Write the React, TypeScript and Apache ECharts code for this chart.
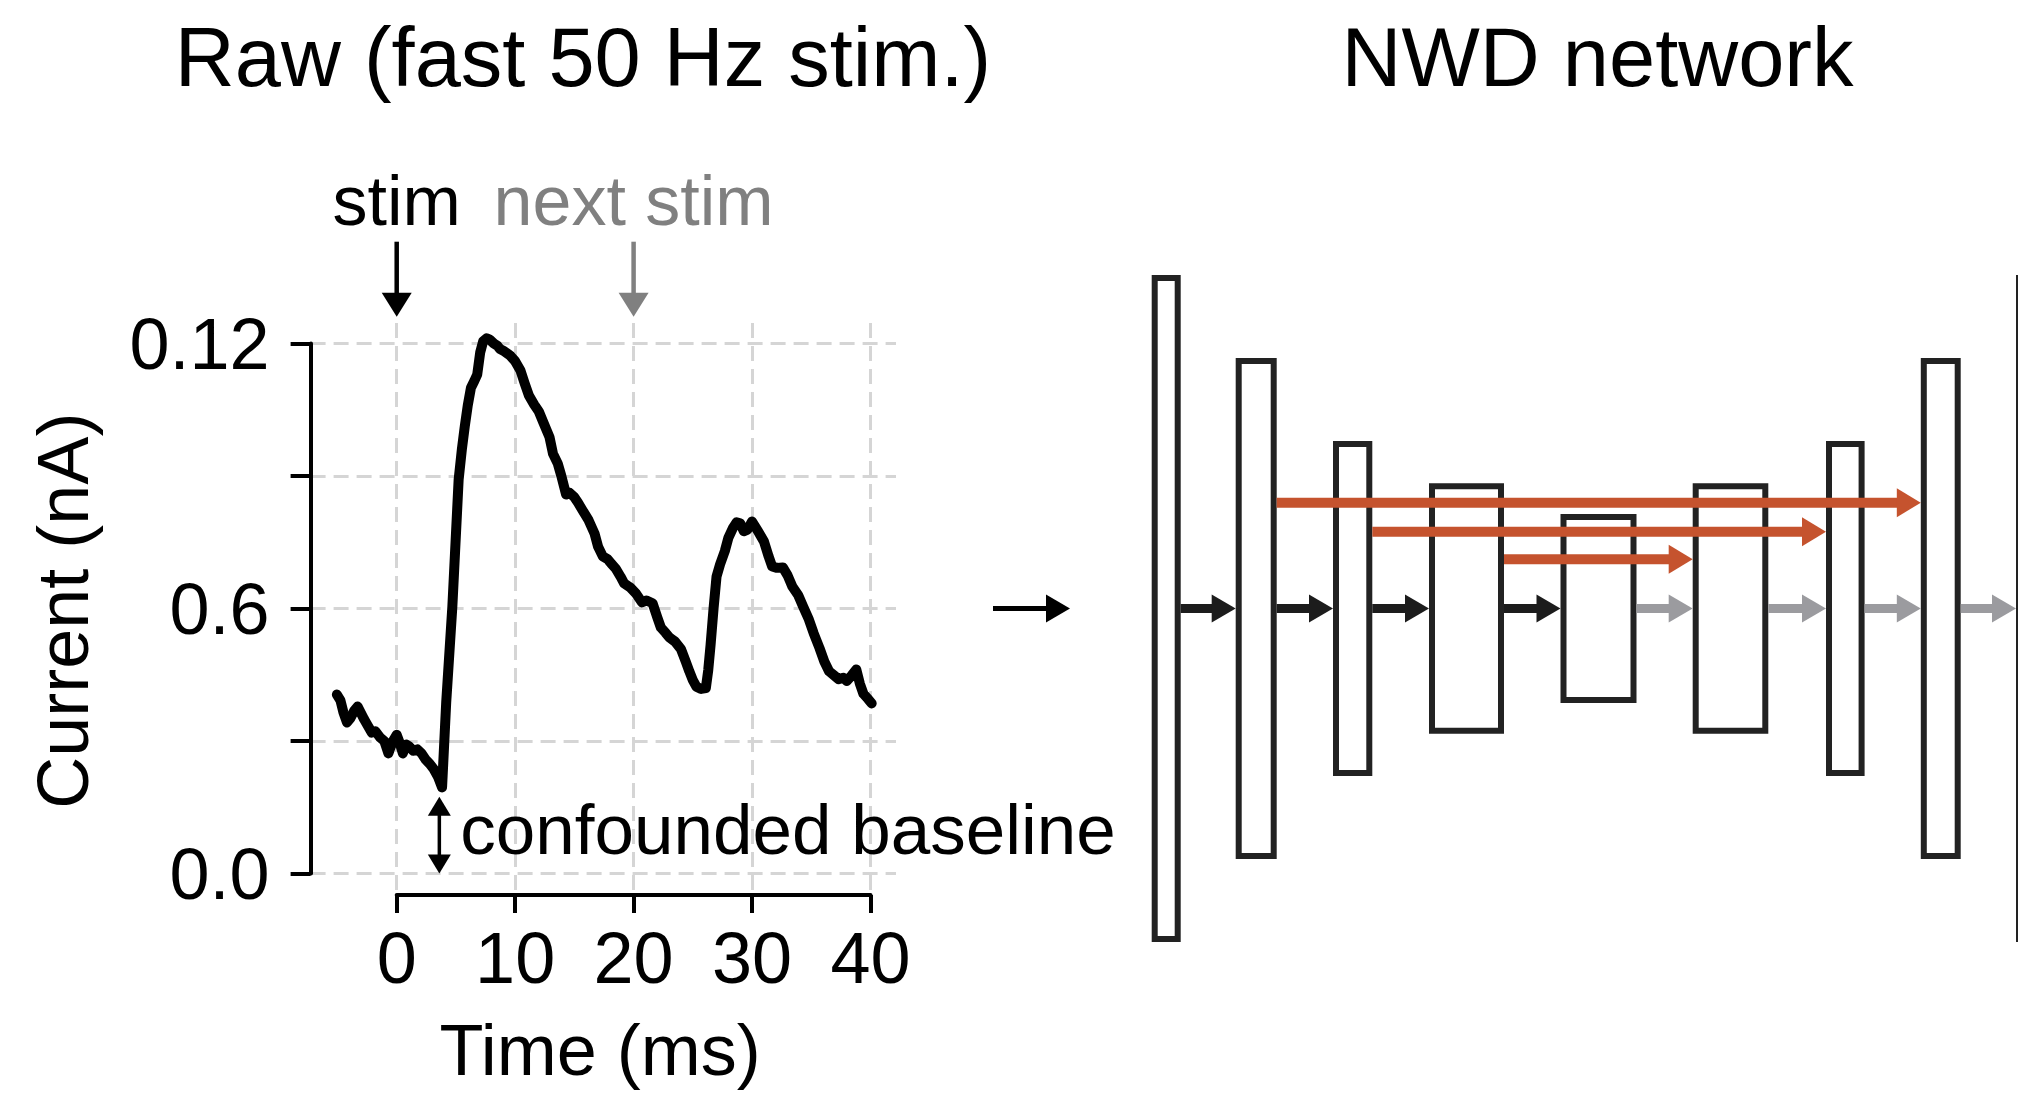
import React, { useEffect, useRef } from 'react';
import * as echarts from 'echarts';

// ---------- Raw trace (fast 50 Hz stimulation) ----------
const timeMs = [
  -5.05, -4.75, -4.5, -4.2, -3.9, -3.6, -3.3, -3.0, -2.75, -2.45, -2.1, -1.8, -1.4, -1.05, -0.7, -0.35,
  0.0, 0.25, 0.52, 0.8, 1.05, 1.4, 1.74, 2.1, 2.44, 2.8, 3.14, 3.5, 3.83, 4.18, 4.7, 5.23, 5.5, 5.75,
  6.0, 6.27, 6.55, 6.8, 7.05, 7.3, 7.6, 7.84, 8.2, 8.5, 8.7, 9.1, 9.6, 10.0, 10.45, 10.8, 11.15, 11.6,
  12.0, 12.4, 12.9, 13.2, 13.6, 13.9, 14.3, 14.6, 15.0, 15.3, 15.7, 16.2, 16.7, 17.0, 17.4, 17.8, 18.1,
  18.5, 18.9, 19.2, 19.7, 20.2, 20.7, 21.1, 21.6, 22.0, 22.3, 22.7, 23.0, 23.5, 24.0, 24.4, 24.7, 25.0,
  25.3, 25.7, 26.1, 26.3, 26.5, 26.75, 27.0, 27.3, 27.7, 28.0, 28.4, 28.7, 29.0, 29.3, 29.6, 30.0, 30.5,
  31.0, 31.4, 31.7, 32.1, 32.6, 33.0, 33.4, 33.9, 34.3, 34.8, 35.2, 35.7, 36.1, 36.5, 36.9, 37.3, 37.7,
  38.0, 38.4, 38.8, 39.1, 39.4, 39.8, 40.1,
];
const currentNA = [
  0.0405, 0.0392, 0.0365, 0.0342, 0.0352, 0.0368, 0.0378, 0.0362, 0.0349, 0.0335, 0.0319, 0.0322, 0.0308, 0.03, 0.0272, 0.0298,
  0.0314, 0.0296, 0.0272, 0.0292, 0.0288, 0.0278, 0.0281, 0.0272, 0.0258, 0.0248, 0.0236, 0.0218, 0.0195, 0.0388, 0.0605, 0.0892, 0.096, 0.1013,
  0.106, 0.11, 0.1115, 0.113, 0.118, 0.1205, 0.1212, 0.1209, 0.12, 0.1195, 0.1188, 0.1182, 0.1172, 0.116, 0.1139, 0.111, 0.1083, 0.1062,
  0.1046, 0.102, 0.0988, 0.095, 0.0928, 0.09, 0.0858, 0.0862, 0.0852, 0.084, 0.0822, 0.08, 0.077, 0.074, 0.0718, 0.0712, 0.0702,
  0.069, 0.0672, 0.0657, 0.0648, 0.0634, 0.0614, 0.0618, 0.0612, 0.058, 0.0557, 0.0545, 0.0535, 0.0525, 0.0508, 0.048, 0.0458, 0.0438,
  0.0423, 0.0418, 0.042, 0.046, 0.0518, 0.06, 0.0672, 0.07, 0.073, 0.076, 0.0783, 0.0795, 0.0793, 0.0775, 0.0778, 0.0797, 0.0775,
  0.0752, 0.0718, 0.0695, 0.0692, 0.0693, 0.0675, 0.065, 0.063, 0.0605, 0.0575, 0.0544, 0.051, 0.048, 0.0458, 0.0449, 0.044, 0.0443,
  0.0436, 0.0448, 0.0462, 0.043, 0.0407, 0.0395, 0.0385,
];

const xTickValues = [0, 10, 20, 30, 40];
const yTickValues = [0, 0.03, 0.06, 0.09, 0.12];
const yTickLabels = ['0.0', '', '0.6', '', '0.12'];

const stimTimes = [0, 20];
const stimLabels = ['stim', 'next stim'];
const baselineArrowX = [3.6];
const baselineArrowTop = [0.0174];
const baselineLabel = 'confounded baseline';

const panelTitles = ['Raw (fast 50 Hz stim.)', 'NWD network'];
const xAxisTitle = 'Time (ms)';
const yAxisTitle = 'Current (nA)';

// ---------- NWD network schematic (diagram units) ----------
const layerLeft = [51.7, 135.7, 233, 329, 460.5, 592.7, 726, 820.8, 916];
const layerRight = [80.7, 176.7, 272.3, 404, 536.5, 668.3, 764.6, 860.7, 945];
const layerHalfHeight = [333.5, 250.5, 167.4, 125.3, 94.6, 125.3, 167.4, 250.5, 333.5];
const forwardKind = [0, 0, 0, 0, 1, 1, 1, 1]; // 0 encoder (dark), 1 decoder (gray)
const skipFrom = [1, 2, 3];
const skipTo = [7, 6, 5];
const skipLevel = [105.8, 76.8, 49.2];
const inputArrowFrom = [-107];
const inputArrowTo = [-30];

const FONT = '"Liberation Sans", Arial, Helvetica, sans-serif';

export default function App() {
  const ref = useRef<HTMLDivElement>(null);

  useEffect(() => {
    if (!ref.current) return;
    const chart = echarts.init(ref.current, undefined, { renderer: 'svg' });

    // layout (pixels)
    const g0 = { left: 310.6, top: 343.5, width: 585.4, height: 530 };
    const g1 = { left: 396.7, top: 323, width: 473.8, height: 572 };
    const pxPerMs = g1.width / (xTickValues[4] - xTickValues[0]);
    const g0XMin = xTickValues[0] - (g1.left - g0.left) / pxPerMs;
    const g0XMax = g0XMin + g0.width / pxPerMs;

    const gridDash = { color: '#d5d5d5', width: 3, type: [15, 8] as any };

    const arrowStyles = [
      { color: '#1c1c1c', shaft: 9, headLen: 24, headHalf: 14 },
      { color: '#9b9b9f', shaft: 9, headLen: 24, headHalf: 14 },
      { color: '#c5532e', shaft: 10, headLen: 24, headHalf: 14.5 },
      { color: '#000000', shaft: 5, headLen: 24, headHalf: 14 },
    ];

    const boxData = layerLeft.map((l, i) => [l, layerRight[i], layerHalfHeight[i]]);
    const arrowData: number[][] = [];
    forwardKind.forEach((k, i) => arrowData.push([layerRight[i], layerLeft[i + 1], 0, k]));
    skipFrom.forEach((f, i) => arrowData.push([layerRight[f], layerLeft[skipTo[i]], skipLevel[i], 2]));
    inputArrowFrom.forEach((f, i) => arrowData.push([f, inputArrowTo[i], 0, 3]));

    const option: any = {
      animation: false,
      textStyle: { fontFamily: FONT },
      grid: [
        { ...g0, containLabel: false, outerBoundsMode: 'none' },
        { ...g1, containLabel: false, outerBoundsMode: 'none' },
        { left: 960, top: 258.5, width: 1058, height: 700, containLabel: false, outerBoundsMode: 'none' },
      ],
      xAxis: [
        { gridIndex: 0, type: 'value', min: g0XMin, max: g0XMax, show: false, axisLine: { onZero: false } },
        {
          gridIndex: 1, type: 'value', min: 0, max: 40, interval: 10, position: 'bottom',
          axisLine: { show: true, onZero: false, lineStyle: { color: '#000', width: 4 } },
          axisTick: { show: true, length: 18, inside: false, lineStyle: { color: '#000', width: 4 } },
          axisLabel: { show: true, fontSize: 72, color: '#000', margin: 27, fontFamily: FONT, showMinLabel: true, showMaxLabel: true },
          splitLine: { show: true, lineStyle: gridDash },
        },
        { gridIndex: 2, type: 'value', min: -140, max: 918, show: false },
      ],
      yAxis: [
        {
          gridIndex: 0, type: 'value', min: 0, max: 0.12, interval: 0.03, position: 'left',
          axisLine: { show: true, onZero: false, lineStyle: { color: '#000', width: 4 } },
          axisTick: { show: true, length: 20, inside: false, lineStyle: { color: '#000', width: 4 } },
          axisLabel: {
            show: true, fontSize: 72, color: '#000', margin: 41, fontFamily: FONT, showMinLabel: true, showMaxLabel: true,
            formatter: (v: number) => {
              const i = yTickValues.findIndex((t) => Math.abs(t - v) < 1e-9);
              return i >= 0 ? yTickLabels[i] : '';
            },
          },
          splitLine: { show: true, lineStyle: gridDash },
        },
        { gridIndex: 1, type: 'value', min: 0, max: 1, show: false, axisLine: { onZero: false } },
        { gridIndex: 2, type: 'value', min: -350, max: 350, show: false },
      ],
      series: [
        {
          type: 'line', xAxisIndex: 0, yAxisIndex: 0, clip: false, symbol: 'none', showSymbol: false,
          data: timeMs.map((t, i) => [t, currentNA[i]]),
          lineStyle: { color: '#000', width: 10, join: 'round', cap: 'round' },
          z: 5,
        },
        {
          type: 'custom', xAxisIndex: 0, yAxisIndex: 0, clip: false, z: 6,
          data: stimTimes.map((t, i) => [t, i]),
          renderItem: (_p: any, api: any) => {
            const idx = api.value(1);
            const p = api.coord([api.value(0), yTickValues[4]]);
            const color = idx === 0 ? '#000000' : '#808080';
            const tipY = p[1] - 26.8;
            const headLen = 24;
            const headHalf = 15;
            return {
              type: 'group',
              children: [
                { type: 'line', shape: { x1: p[0], y1: p[1] - 101.8, x2: p[0], y2: tipY - headLen + 1 }, style: { stroke: color, lineWidth: 4.5 } },
                { type: 'polygon', shape: { points: [[p[0] - headHalf, tipY - headLen], [p[0], tipY], [p[0] + headHalf, tipY - headLen]] }, style: { fill: color } },
                { type: 'text', x: p[0], y: p[1] - 142.8, style: { text: stimLabels[idx], fill: color, fontSize: 70, fontFamily: FONT, align: 'center', verticalAlign: 'middle' } },
              ],
            };
          },
        },
        {
          type: 'custom', xAxisIndex: 0, yAxisIndex: 0, clip: false, z: 6,
          data: baselineArrowX.map((x, i) => [x, 0, baselineArrowTop[i]]),
          renderItem: (_p: any, api: any) => {
            const b = api.coord([api.value(0), api.value(1)]);
            const t = api.coord([api.value(0), api.value(2)]);
            const hl = 19;
            const hh = 11.5;
            return {
              type: 'group',
              children: [
                { type: 'line', shape: { x1: b[0], y1: t[1] + hl - 1, x2: b[0], y2: b[1] - hl + 1 }, style: { stroke: '#000', lineWidth: 3.5 } },
                { type: 'polygon', shape: { points: [[t[0] - hh, t[1] + hl], [t[0], t[1]], [t[0] + hh, t[1] + hl]] }, style: { fill: '#000' } },
                { type: 'polygon', shape: { points: [[b[0] - hh, b[1] - hl], [b[0], b[1]], [b[0] + hh, b[1] - hl]] }, style: { fill: '#000' } },
                { type: 'text', x: b[0] + 21, y: (b[1] + t[1]) / 2 - 5.6, style: { text: baselineLabel, fill: '#000', fontSize: 71, fontFamily: FONT, align: 'left', verticalAlign: 'middle' } },
              ],
            };
          },
        },
        {
          type: 'custom', xAxisIndex: 2, yAxisIndex: 2, clip: false, z: 3,
          data: boxData,
          encode: { x: [0, 1], y: 2 },
          renderItem: (_p: any, api: any) => {
            const a = api.coord([api.value(0), api.value(2)]);
            const b = api.coord([api.value(1), -api.value(2)]);
            const lw = 6;
            return {
              type: 'rect',
              shape: { x: a[0] + lw / 2, y: a[1] + lw / 2, width: b[0] - a[0] - lw, height: b[1] - a[1] - lw },
              style: { fill: '#ffffff', stroke: '#222222', lineWidth: lw },
            };
          },
        },
        {
          type: 'custom', xAxisIndex: 2, yAxisIndex: 2, clip: false, z: 4,
          data: arrowData,
          encode: { x: [0, 1], y: 2 },
          renderItem: (_p: any, api: any) => {
            const a = api.coord([api.value(0), api.value(2)]);
            const b = api.coord([api.value(1), api.value(2)]);
            const s = arrowStyles[api.value(3)];
            return {
              type: 'group',
              children: [
                { type: 'line', shape: { x1: a[0], y1: a[1], x2: b[0] - s.headLen + 1, y2: b[1] }, style: { stroke: s.color, lineWidth: s.shaft } },
                { type: 'polygon', shape: { points: [[b[0] - s.headLen, b[1] - s.headHalf], [b[0], b[1]], [b[0] - s.headLen, b[1] + s.headHalf]] }, style: { fill: s.color } },
              ],
            };
          },
        },
      ],
      graphic: [
        { type: 'text', x: 583, y: 57, style: { text: panelTitles[0], fill: '#000', fontSize: 83, fontFamily: FONT, align: 'center', verticalAlign: 'middle' } },
        { type: 'text', x: 1597.5, y: 57, style: { text: panelTitles[1], fill: '#000', fontSize: 83, fontFamily: FONT, align: 'center', verticalAlign: 'middle' } },
        { type: 'text', x: 600, y: 1050, style: { text: xAxisTitle, fill: '#000', fontSize: 72, fontFamily: FONT, align: 'center', verticalAlign: 'middle' } },
        { type: 'text', x: 63.3, y: 610.7, rotation: Math.PI / 2, style: { text: yAxisTitle, fill: '#000', fontSize: 72, fontFamily: FONT, align: 'center', verticalAlign: 'middle' } },
      ],
    };

    chart.setOption(option);
    return () => chart.dispose();
  }, []);

  return (
    <div
      ref={ref}
      style={{ position: 'fixed', left: 0, top: 0, width: 2018, height: 1093, background: '#fff' }}
    />
  );
}
